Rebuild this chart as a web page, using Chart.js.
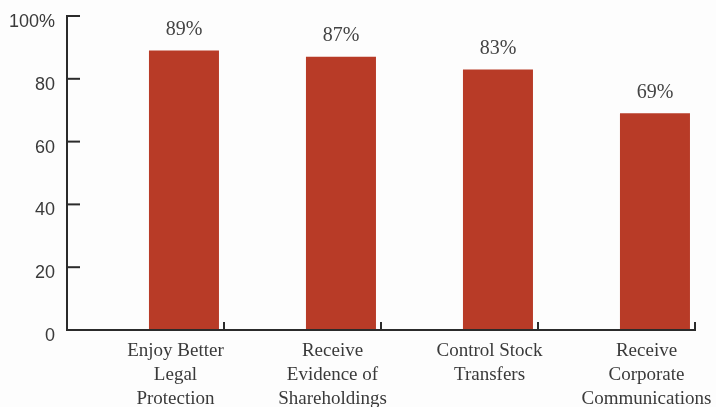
<!DOCTYPE html>
<html>
<head>
<meta charset="utf-8">
<script src="https://cdn.jsdelivr.net/npm/chart.js@4"></script>
<style>
  html, body { margin: 0; padding: 0; background: #fdfdfd; }
  #wrap { width: 716px; height: 407px; position: relative; }
</style>
</head>
<body>
<div id="wrap"><canvas id="chart"></canvas></div>
<script>
const categories = [
  ['Enjoy Better', 'Legal', 'Protection'],
  ['Receive', 'Evidence of', 'Shareholdings'],
  ['Control Stock', 'Transfers'],
  ['Receive', 'Corporate', 'Communications']
];
const values = [89, 87, 83, 69];
const yTickLabels = ['0', '20', '40', '60', '80', '100%'];

const axisColor = '#2b2b2b';
const barColor = '#b83b27';

// x axis line, short tick marks pointing into the plot, value labels over bars
const decorations = {
  id: 'decorations',
  afterDraw(chart) {
    const ctx = chart.ctx;
    const area = chart.chartArea;
    const x = chart.scales.x;
    const y = chart.scales.y;
    ctx.save();
    ctx.strokeStyle = axisColor;
    ctx.lineWidth = 2;
    const half = (x.getPixelForValue(1) - x.getPixelForValue(0)) / 2;
    const xEnd = x.getPixelForValue(categories.length - 1) + half;
    ctx.beginPath();
    ctx.moveTo(area.left - 1, area.bottom);
    ctx.lineTo(xEnd + 1, area.bottom);
    ctx.stroke();
    y.ticks.forEach((t, i) => {
      const py = y.getPixelForTick(i);
      ctx.beginPath();
      ctx.moveTo(area.left, py);
      ctx.lineTo(area.left + 13, py);
      ctx.stroke();
    });
    categories.forEach((c, i) => {
      const px = x.getPixelForValue(i) + half;
      ctx.beginPath();
      ctx.moveTo(px, area.bottom);
      ctx.lineTo(px, area.bottom - 8);
      ctx.stroke();
    });
    ctx.fillStyle = '#444';
    ctx.font = '20px "Liberation Serif", serif';
    ctx.textAlign = 'center';
    ctx.textBaseline = 'middle';
    chart.getDatasetMeta(1).data.forEach((bar, i) => {
      ctx.fillText(values[i] + '%', bar.x, bar.y - 21);
    });
    ctx.restore();
  }
};

new Chart(document.getElementById('chart'), {
  type: 'bar',
  data: {
    labels: categories,
    datasets: [
      { label: '', data: values.map(() => null) }, // spacer slot, bars sit right of centre
      {
        label: 'Share',
        data: values,
        backgroundColor: barColor,
        categoryPercentage: 0.98,
        barPercentage: 0.91
      }
    ]
  },
  options: {
    responsive: true,
    maintainAspectRatio: false,
    animation: false,
    layout: { padding: { top: 16, right: 21, left: 0, bottom: 0 } },
    plugins: { legend: { display: false }, tooltip: { enabled: false } },
    datasets: { bar: { categoryPercentage: 0.98, barPercentage: 0.91 } },
    scales: {
      x: {
        grid: { display: false, drawTicks: false },
        border: { display: false },
        ticks: {
          color: '#3a3a3a',
          font: { family: '"Liberation Serif", serif', size: 19, lineHeight: 1.27 },
          padding: 9,
          labelOffset: 30,
          maxRotation: 0,
          autoSkip: false
        },
        afterFit(scale) {
          scale.height = 77;
          scale.paddingLeft = 0;
          scale.paddingRight = 0;
        }
      },
      y: {
        min: 0,
        max: 100,
        grid: { display: false, drawTicks: false },
        border: { display: true, color: axisColor, width: 2 },
        ticks: {
          stepSize: 20,
          color: '#3a3a3a',
          font: { family: '"Liberation Sans", Arial, sans-serif', size: 18 },
          padding: 12,
          labelOffset: 6,
          callback: (v, i) => yTickLabels[i]
        },
        afterFit(scale) {
          scale.width = 67;
          scale.paddingTop = 0;
          scale.paddingBottom = 0;
        }
      }
    }
  },
  plugins: [decorations]
});
</script>
</body>
</html>
